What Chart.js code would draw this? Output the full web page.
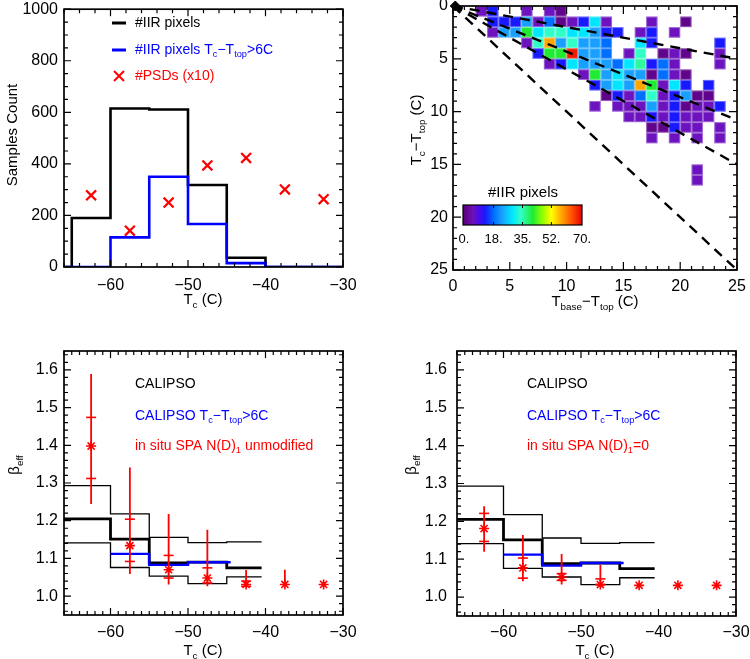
<!DOCTYPE html>
<html><head><meta charset="utf-8">
<script src="https://cdn.jsdelivr.net/npm/chart.js@4.4.1/dist/chart.umd.min.js"></script>
<style>
html,body{margin:0;padding:0;background:#fff;}
#wrap{position:relative;width:750px;height:659px;overflow:hidden;background:#fff;}
canvas{position:absolute;}
</style></head><body>
<div id="wrap">
<canvas id="c1" width="375" height="330" style="left:0;top:0"></canvas>
<canvas id="c2" width="375" height="330" style="left:375px;top:0"></canvas>
<canvas id="c3" width="375" height="329" style="left:0;top:330px"></canvas>
<canvas id="c4" width="375" height="329" style="left:375px;top:330px"></canvas>
</div>
<script>
// ---------------- DATA ----------------
// Top-left: histogram of IIR pixels vs Tc
const tcBinEdges = [-66, -65, -60, -55, -50, -45, -40, -30];
const iirPixelCounts = [0, 190, 615, 611, 318, 36, 0];
const iirPixelCountsDeep = [0, 0, 115, 350, 167, 15, 0];
const psdTc = [-62.5, -57.5, -52.5, -47.5, -42.5, -37.5, -32.5];
const psdCountX10 = [278, 141, 250, 394, 423, 301, 263];
const tcTicks = [-60, -50, -40, -30];
const countTicks = [0, 200, 400, 600, 800, 1000];

// Top-right: 2D histogram (cell lower-left corners and counts)
const heatX = [
  2,3,6,8,9,
  3,4,5,6,7,8,9,10,11,12,13,17,20,
  3,4,5,6,7,8,9,10,11,12,13,14,16,17,19,
  6,7,8,9,10,11,12,13,16,17,23,
  7,8,9,10,11,12,13,15,16,18,19,20,23,
  8,9,10,11,12,13,14,15,16,17,18,19,23,
  11,12,13,14,15,16,17,18,19,20,
  12,13,14,15,16,17,18,19,20,22,
  13,14,15,16,17,18,19,20,21,22,
  12,14,15,16,17,18,19,20,21,22,23,
  15,16,17,18,19,20,21,22,
  17,18,19,20,21,23,
  17,19,21,23,
  21,
  21];
const heatY = [
  0,0,0,0,0,
  1,1,1,1,1,1,1,1,1,1,1,1,1,
  2,2,2,2,2,2,2,2,2,2,2,2,2,2,2,
  3,3,3,3,3,3,3,3,3,3,3,
  4,4,4,4,4,4,4,4,4,4,4,4,4,
  5,5,5,5,5,5,5,5,5,5,5,5,5,
  6,6,6,6,6,6,6,6,6,6,
  7,7,7,7,7,7,7,7,7,7,
  8,8,8,8,8,8,8,8,8,8,
  9,9,9,9,9,9,9,9,9,9,9,
  10,10,10,10,10,10,10,10,
  11,11,11,11,11,11,
  12,12,12,12,
  15,
  16];
const heatCount = [
  6,13,6,6,2,
  13,13,13,23,6,18,2,6,13,29,6,6,2,
  6,23,23,41,29,34,34,29,29,23,13,13,6,13,6,
  6,34,58,23,34,23,23,18,29,13,13,
  13,41,41,68,23,23,18,6,34,2,6,2,6,
  6,13,29,23,23,23,18,29,36,13,18,6,6,
  6,41,23,29,23,23,2,18,6,2,
  13,23,29,23,58,41,6,29,13,13,
  2,13,6,18,34,6,13,23,2,2,
  6,6,6,6,23,6,13,2,6,6,13,
  6,6,13,6,13,6,6,6,
  2,2,13,6,6,6,
  6,6,6,6,
  6,
  6];
const dashLineEndY = [5, 10.8, 15, 25];   // value at Tbase-Ttop = 25, lines from origin
const diffTicks = [0, 5, 10, 15, 20, 25];
const colorbarTicks = [0, 18, 35, 52, 70];
const colorbarLabels = ['0.', '18.', '35.', '52.', '70.'];

// Bottom: CALIPSO beta_eff
const betaBinEdges = [-66, -60, -55, -50, -45, -40.5];
const betaMean  = [1.205, 1.151, 1.088, 1.090, 1.075];
const betaUpper = [1.293, 1.218, 1.156, 1.142, 1.144];
const betaLower = [1.141, 1.076, 1.053, 1.033, 1.051];
const betaDeepEdges = [-60, -55, -50, -44.5];
const betaDeep = [1.112, 1.083, 1.090];
const betaTicks = [1.0, 1.1, 1.2, 1.3, 1.4, 1.5, 1.6];

// in situ SPA, N(D)1 unmodified
const unmodBeta = [1.398, 1.134, 1.070, 1.048, 1.031, 1.031, 1.031];
const unmodLow  = [1.244, 1.059, 1.031, 1.026, 1.028, 1.031, 1.031];
const unmodHigh = [1.589, 1.341, 1.218, 1.176, 1.069, 1.070, 1.031];
const unmodQ1   = [1.312, 1.092, 1.048, 1.035, 1.026, null, null];
const unmodQ3   = [1.474, 1.204, 1.108, 1.075, 1.040, null, null];
// in situ SPA, N(D)1 = 0
const zeroBeta = [1.181, 1.077, 1.053, 1.033, 1.031, 1.031, 1.031];
const zeroLow  = [1.120, 1.042, 1.033, 1.031, 1.031, 1.031, 1.031];
const zeroHigh = [1.240, 1.164, 1.114, 1.085, 1.031, 1.031, 1.031];
const zeroQ1   = [1.147, 1.050, 1.044, 1.033, null, null, null];
const zeroQ3   = [1.221, 1.103, 1.062, 1.048, null, null, null];

// ---------------- HELPERS ----------------
const FAM = '"Liberation Sans", Helvetica, Arial, sans-serif';
Chart.defaults.font.family = FAM;
const RED = '#ff0000', BLUE = '#0000ff';
const TICK_FONT = {size:16, family:FAM};

function stepPoints(edges, vals){ return edges.map((e,i)=>({x:e, y: vals[Math.min(i, vals.length-1)]})); }
function whiskers(xs, lo, hi){ const d=[]; xs.forEach((t,i)=>{ if(hi[i]>lo[i]+1e-9){ d.push({x:t,y:lo[i]},{x:t,y:hi[i]},{x:t,y:null}); } }); return d; }
function quartiles(xs, q1, q3){ const d=[]; xs.forEach((t,i)=>{ [q1[i],q3[i]].forEach(v=>{ if(v!=null) d.push({x:t,y:v}); }); }); return d; }
const fmtInt = v => v<0 ? '\u2212'+Math.abs(v) : String(v);

const cmapStops = [[0,[88,0,118]],[3,[100,8,150]],[6,[108,18,190]],[9,[80,10,230]],[13,[25,25,255]],[18,[0,110,255]],[23,[25,160,255]],[29,[0,230,255]],[34,[50,255,200]],[41,[30,235,50]],[47,[150,255,0]],[52,[255,255,0]],[58,[255,165,0]],[64,[255,80,0]],[70,[235,0,0]]];
function colormap(v){
  if (v<=cmapStops[0][0]) return 'rgb('+cmapStops[0][1].join(',')+')';
  for (let i=1;i<cmapStops.length;i++){
    if (v<=cmapStops[i][0]){
      const [a,ca]=cmapStops[i-1],[b,cb]=cmapStops[i]; const t=(v-a)/(b-a);
      return 'rgb('+ca.map((c,k)=>Math.round(c+(cb[k]-c)*t)).join(',')+')';
    }
  }
  return 'rgb('+cmapStops[cmapStops.length-1][1].join(',')+')';
}

function drawRich(ctx, it){
  const size = it.size||15;
  ctx.save();
  ctx.translate(it.x, it.y);
  if (it.rot) ctx.rotate(it.rot);
  let w=0;
  const parts = it.parts.map(p=>{ const sub=p[1]==='s'; const fs=sub?size*0.66:size; ctx.font=fs+'px '+FAM; const pw=ctx.measureText(p[0]).width; w+=pw; return {t:p[0],sub,fs,pw}; });
  let x = it.align==='center' ? -w/2 : 0;
  ctx.fillStyle = it.color||'#000';
  ctx.textBaseline = 'middle';
  for (const p of parts){ ctx.font=p.fs+'px '+FAM; ctx.fillText(p.t, x, p.sub ? size*0.32 : 0); x+=p.pw; }
  ctx.restore();
}

function framePlugin(o){
  return {id:'frame', afterDatasetsDraw(chart){
    const {ctx, chartArea:a, scales:{x,y}} = chart;
    ctx.save();
    ctx.strokeStyle='#000';
    ctx.lineWidth=1.2;
    const isMaj=(v,m)=>Math.abs(v/m-Math.round(v/m))<1e-6;
    ctx.beginPath();
    for (let k=Math.ceil(x.min/o.xMinor-1e-9); k*o.xMinor<=x.max+1e-9; k++){
      const v=k*o.xMinor, px=x.getPixelForValue(v), L=isMaj(v,o.xMajor)?o.major:o.minor;
      ctx.moveTo(px,a.bottom); ctx.lineTo(px,a.bottom-L);
      ctx.moveTo(px,a.top); ctx.lineTo(px,a.top+L);
    }
    for (let k=Math.ceil(y.min/o.yMinor-1e-9); k*o.yMinor<=y.max+1e-9; k++){
      const v=k*o.yMinor, py=y.getPixelForValue(v), L=isMaj(v,o.yMajor)?o.major:o.minor;
      ctx.moveTo(a.left,py); ctx.lineTo(a.left+L,py);
      ctx.moveTo(a.right,py); ctx.lineTo(a.right-L,py);
    }
    ctx.stroke();
    ctx.lineWidth=1.7;
    ctx.strokeRect(a.left, a.top, a.right-a.left, a.bottom-a.top);
    ctx.restore();
  }};
}
function textPlugin(items, extra){
  return {id:'txt', afterDraw(chart){ const ctx=chart.ctx; if(extra) extra(chart); items.forEach(it=>drawRich(ctx,it)); }};
}

function baseOpts(o){
  return {
    responsive:false, animation:false, devicePixelRatio:1, events:[],
    layout:{padding:o.pad},
    plugins:{legend:{display:false}, tooltip:{enabled:false}},
    elements:{line:{tension:0}},
    scales:{
      x:{type:'linear', min:o.xmin, max:o.xmax,
         grid:{display:false, drawTicks:false}, border:{display:false},
         ticks:{autoSkip:false, maxRotation:0, minRotation:0, padding:o.xpad, color:'#000', font:TICK_FONT, callback:o.xfmt||fmtInt},
         afterBuildTicks:s=>{ s.ticks = o.xticks.map(v=>({value:v})); },
         afterFit:s=>{ s.height=o.xh; s.paddingLeft=0; s.paddingRight=0; s.paddingTop=0; s.paddingBottom=0; }},
      y:{type:'linear', reverse:!!o.yrev, min:o.ymin, max:o.ymax,
         grid:{display:false, drawTicks:false}, border:{display:false},
         ticks:{autoSkip:false, padding:o.ypad, color:'#000', font:TICK_FONT, callback:o.yfmt||fmtInt},
         afterBuildTicks:s=>{ s.ticks = o.yticks.map(v=>({value:v})); },
         afterFit:s=>{ s.width=o.yw; s.paddingLeft=0; s.paddingRight=0; s.paddingTop=0; s.paddingBottom=0; }}
    }
  };
}

// ---------------- PANEL 1 ----------------
new Chart(document.getElementById('c1'), {
  type:'line',
  data:{datasets:[
    {data:stepPoints(tcBinEdges, iirPixelCounts), stepped:true, borderColor:'#000', borderWidth:2.6, pointRadius:0, order:3},
    {data:stepPoints(tcBinEdges, iirPixelCountsDeep), stepped:true, borderColor:BLUE, borderWidth:2.6, pointRadius:0, order:2},
    {data:psdTc.map((t,i)=>({x:t,y:psdCountX10[i]})), showLine:false, pointStyle:'crossRot', pointRadius:7, borderColor:RED, borderWidth:2.2, order:1}
  ]},
  options: baseOpts({xmin:-66,xmax:-30,xticks:tcTicks,ymin:0,ymax:1000,yticks:countTicks,pad:{left:0,right:32,top:5,bottom:0},yw:64,xh:63,xpad:9,ypad:6}),
  plugins:[framePlugin({xMinor:2,xMajor:10,yMinor:50,yMajor:200,major:7,minor:4}),
    textPlugin([
      {x:13,y:135,rot:-Math.PI/2,align:'center',size:15,parts:[['Samples Count','n']]},
      {x:203,y:300,align:'center',size:15,parts:[['T','n'],['c','s'],[' (C)','n']]},
      {x:135,y:23,size:14,parts:[['#IIR pixels','n']]},
      {x:135,y:50,size:14,color:BLUE,parts:[['#IIR pixels T','n'],['c','s'],['\u2212T','n'],['top','s'],['>6C','n']]},
      {x:135,y:76,size:14,color:RED,parts:[['#PSDs (x10)','n']]}
    ], chart=>{
      const ctx=chart.ctx; ctx.save();
      ctx.lineWidth=3; ctx.strokeStyle='#000'; ctx.beginPath(); ctx.moveTo(112,23); ctx.lineTo(126,23); ctx.stroke();
      ctx.strokeStyle=BLUE; ctx.beginPath(); ctx.moveTo(112,50); ctx.lineTo(126,50); ctx.stroke();
      ctx.strokeStyle=RED; ctx.lineWidth=2; ctx.beginPath(); ctx.moveTo(114,71); ctx.lineTo(124,81); ctx.moveTo(124,71); ctx.lineTo(114,81); ctx.stroke();
      ctx.restore();
    })]
});

// ---------------- PANEL 2 ----------------
const heatPlugin = {id:'heat', beforeDatasetsDraw(chart){
  const {ctx, scales:{x,y}, chartArea:a} = chart;
  ctx.save(); ctx.beginPath(); ctx.rect(a.left,a.top,a.right-a.left,a.bottom-a.top); ctx.clip();
  for (let i=0;i<heatX.length;i++){
    const x0=x.getPixelForValue(heatX[i]), x1=x.getPixelForValue(heatX[i]+1);
    const y0=y.getPixelForValue(heatY[i]), y1=y.getPixelForValue(heatY[i]+1);
    ctx.fillStyle=colormap(heatCount[i]);
    ctx.fillRect(x0,y0,x1-x0,y1-y0);
    ctx.strokeStyle='rgba(255,255,255,0.35)'; ctx.lineWidth=1;
    ctx.strokeRect(x0+0.5,y0+0.5,x1-x0-1,y1-y0-1);
  }
  ctx.restore();
}};
const cbar = {l:88, r:207, t:205, b:225};
function drawColorbar(chart){
  const ctx=chart.ctx; ctx.save();
  const g=ctx.createLinearGradient(cbar.l,0,cbar.r,0);
  for (let v=0; v<=70; v+=1) g.addColorStop(v/70, colormap(v));
  ctx.fillStyle=g; ctx.fillRect(cbar.l,cbar.t,cbar.r-cbar.l,cbar.b-cbar.t);
  ctx.strokeStyle='#000'; ctx.lineWidth=1.2; ctx.strokeRect(cbar.l,cbar.t,cbar.r-cbar.l,cbar.b-cbar.t);
  ctx.lineWidth=1; ctx.beginPath();
  colorbarTicks.forEach((v,i)=>{ const px=cbar.l+(cbar.r-cbar.l)*v/70;
    if(i>0&&i<colorbarTicks.length-1){ ctx.moveTo(px,cbar.t); ctx.lineTo(px,cbar.t+3); ctx.moveTo(px,cbar.b); ctx.lineTo(px,cbar.b-3); }
  });
  ctx.stroke();
  ctx.fillStyle='#000'; ctx.font='13px '+FAM; ctx.textAlign='center'; ctx.textBaseline='middle';
  colorbarTicks.forEach((v,i)=>{ const px=cbar.l+(cbar.r-cbar.l)*v/70; ctx.fillText(colorbarLabels[i], px+(i===0?1:0), 239); });
  ctx.restore();
}
new Chart(document.getElementById('c2'), {
  type:'line',
  data:{datasets:[
    ...dashLineEndY.map(e=>({data:[{x:0,y:0},{x:25,y:e}], borderColor:'#000', borderWidth:2.4, borderDash:[10,7], pointRadius:0})),
    {data:[{x:0.2,y:0}], showLine:false, pointStyle:'rectRot', pointRadius:5, backgroundColor:'#000', borderColor:'#000', clip:false}
  ]},
  options: baseOpts({xmin:0,xmax:25,xticks:diffTicks,ymin:0,ymax:25,yticks:diffTicks,yrev:true,pad:{left:0,right:13,top:3,bottom:0},yw:78,xh:60,xpad:7,ypad:5}),
  plugins:[heatPlugin, framePlugin({xMinor:1,xMajor:5,yMinor:1,yMajor:5,major:8,minor:4}),
    textPlugin([
      {x:42,y:130,rot:-Math.PI/2,align:'center',size:15,parts:[['T','n'],['c','s'],['\u2212T','n'],['top','s'],[' (C)','n']]},
      {x:220,y:302,align:'center',size:15,parts:[['T','n'],['base','s'],['\u2212T','n'],['top','s'],[' (C)','n']]},
      {x:148,y:193,align:'center',size:15,parts:[['#IIR pixels','n']]}
    ], drawColorbar)]
});

// ---------------- PANELS 3 & 4 ----------------
function betaChart(id, beta, lo, hi, q1, q3, pad, yw, xh, ypad, xpad, texts){
  return new Chart(document.getElementById(id), {
    type:'line',
    data:{datasets:[
      {data:stepPoints(betaBinEdges, betaUpper), stepped:true, borderColor:'#000', borderWidth:1.3, pointRadius:0, order:6},
      {data:stepPoints(betaBinEdges, betaLower), stepped:true, borderColor:'#000', borderWidth:1.3, pointRadius:0, order:6},
      {data:stepPoints(betaBinEdges, betaMean), stepped:true, borderColor:'#000', borderWidth:2.8, pointRadius:0, order:5},
      {data:stepPoints(betaDeepEdges, betaDeep), stepped:true, borderColor:BLUE, borderWidth:2.4, pointRadius:0, order:4},
      {data:whiskers(psdTc, lo, hi), borderColor:RED, borderWidth:1.8, pointRadius:0, spanGaps:false, order:3},
      {data:quartiles(psdTc, q1, q3), showLine:false, pointStyle:'line', pointRadius:5, borderColor:RED, borderWidth:1.6, order:2},
      {data:psdTc.map((t,i)=>({x:t,y:beta[i]})), showLine:false, pointStyle:'star', pointRadius:5, borderColor:RED, borderWidth:1.6, order:1}
    ]},
    options: baseOpts({xmin:-66,xmax:-30,xticks:tcTicks,ymin:0.95,ymax:1.65,yticks:betaTicks,pad:pad,yw:yw,xh:xh,xpad:xpad,ypad:ypad,yfmt:v=>v.toFixed(1)}),
    plugins:[framePlugin({xMinor:1,xMajor:10,yMinor:0.02,yMajor:0.1,major:7,minor:4}), textPlugin(texts)]
  });
}
betaChart('c3', unmodBeta, unmodLow, unmodHigh, unmodQ1, unmodQ3, {left:0,right:32,top:21,bottom:0}, 64, 44, 6, 8, [
  {x:15,y:135,rot:-Math.PI/2,align:'center',size:15,parts:[['\u03b2','n'],['eff','s']]},
  {x:203,y:321,align:'center',size:15,parts:[['T','n'],['c','s'],[' (C)','n']]},
  {x:135,y:54,size:14,parts:[['CALIPSO','n']]},
  {x:135,y:86,size:14,color:BLUE,parts:[['CALIPSO T','n'],['c','s'],['\u2212T','n'],['top','s'],['>6C','n']]},
  {x:135,y:116,size:14,color:RED,parts:[['in situ SPA N(D)','n'],['1','s'],[' unmodified','n']]}
]);
betaChart('c4', zeroBeta, zeroLow, zeroHigh, zeroQ1, zeroQ3, {left:0,right:14,top:21,bottom:0}, 82, 43, 10, 7, [
  {x:37,y:135,rot:-Math.PI/2,align:'center',size:15,parts:[['\u03b2','n'],['eff','s']]},
  {x:220,y:321,align:'center',size:15,parts:[['T','n'],['c','s'],[' (C)','n']]},
  {x:152,y:54,size:14,parts:[['CALIPSO','n']]},
  {x:152,y:86,size:14,color:BLUE,parts:[['CALIPSO T','n'],['c','s'],['\u2212T','n'],['top','s'],['>6C','n']]},
  {x:152,y:116,size:14,color:RED,parts:[['in situ SPA N(D)','n'],['1','s'],['=0','n']]}
]);
</script>
</body></html>
